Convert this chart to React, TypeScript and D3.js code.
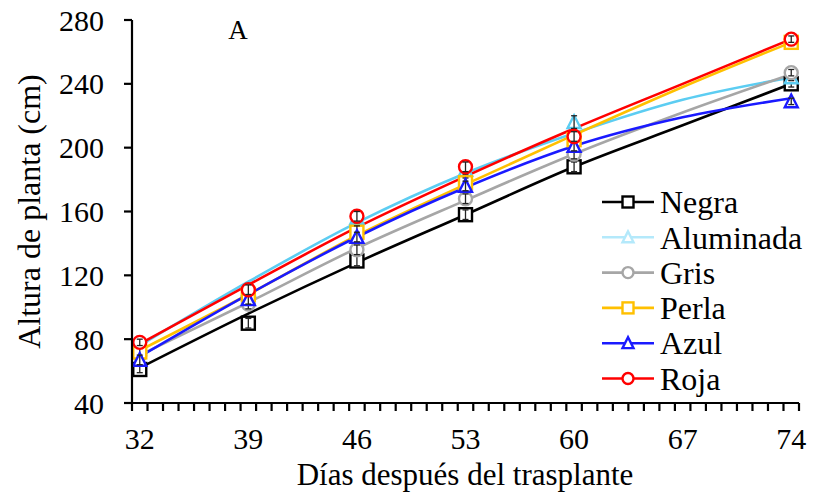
import React from 'react'
import * as d3 from 'd3'

// observed days (markers) and days where the fitted curves were read
const days = [32, 39, 46, 53, 60, 74]
const curveDays = [32, 39, 46, 53, 60, 67, 74]
const xTicks = [32, 39, 46, 53, 60, 67, 74]
const yTicks = [40, 80, 120, 160, 200, 240, 280]

const seriesNames = ['Negra', 'Aluminada', 'Gris', 'Perla', 'Azul', 'Roja']
const seriesColors = ['#000000', '#5ccdf2', '#a6a6a6', '#ffc000', '#1a1aff', '#ff0000']
const legendColors = ['#000000', '#b4e9fb', '#a6a6a6', '#ffc000', '#1a1aff', '#ff0000']
const seriesShapes = ['square', 'triangle', 'circle', 'square', 'triangle', 'circle']

// measured plant height (cm)
const negra = [61, 90, 129, 158, 188, 240]
const aluminada = [76, 111, 156, 186, 216, 244]
const gris = [70, 102, 136, 168, 196, 247]
const perla = [72, 108, 147, 178, 205, 266]
const azul = [67, 105, 144, 176, 201, 229]
const roja = [78, 111, 157, 188, 207, 268]
const values = [negra, aluminada, gris, perla, azul, roja]

// standard errors
const negraErr = [2, 3, 3, 3, 3, 2]
const aluminadaErr = [2, 3, 3, 3, 4, 2]
const grisErr = [2, 3, 3, 3, 3, 2]
const perlaErr = [3, 3, 4, 3, 3, 2]
const azulErr = [3, 3, 3, 3, 3, 2]
const rojaErr = [2, 3, 3, 3, 3, 2]
const errors = [negraErr, aluminadaErr, grisErr, perlaErr, azulErr, rojaErr]

// trend line (fitted) values read at curveDays
const negraFit = [62, 96, 128, 158, 188, 214, 240]
const aluminadaFit = [76, 116, 153, 184, 209, 230, 244]
const grisFit = [70, 103, 137, 167, 196, 222, 246]
const perlaFit = [73, 108, 145, 177, 208, 238, 266]
const azulFit = [69, 108, 144, 175, 201, 219, 231]
const rojaFit = [77, 114, 150, 182, 212, 240, 268]
const fits = [negraFit, aluminadaFit, grisFit, perlaFit, azulFit, rojaFit]

const W = 813
const H = 495
const font = '"Liberation Serif", "Times New Roman", serif'

const x = d3.scaleLinear().domain([31.5, 74.5]).range([132, 799])
const y = d3.scaleLinear().domain([40, 280]).range([403, 20])

const Marker = ({ shape, cx, cy, color, size }: { shape: string; cx: number; cy: number; color: string; size: number }) => {
  const sw = 2.4
  if (shape === 'square') {
    return <rect x={cx - size / 2} y={cy - size / 2} width={size} height={size} fill="white" stroke={color} strokeWidth={sw} />
  }
  if (shape === 'circle') {
    return <circle cx={cx} cy={cy} r={size / 2} fill="white" stroke={color} strokeWidth={sw} />
  }
  const h = size * 0.9
  const pts = [
    [cx, cy - h / 2 - 1],
    [cx - size / 2, cy + h / 2],
    [cx + size / 2, cy + h / 2]
  ]
  return <polygon points={pts.map(p => p.join(',')).join(' ')} fill="white" stroke={color} strokeWidth={sw} />
}

export default function App() {
  const line = d3.line<number>()
    .x((d, i) => x(curveDays[i]))
    .y(d => y(d))
    .curve(d3.curveMonotoneX)

  const minorTicks = d3.range(31.5, 75, 1)

  return (
    <svg width={W} height={H} style={{ position: 'fixed', left: 0, top: 0, background: 'white', fontFamily: font }}>
      {/* trend lines */}
      {fits.map((f, s) => (
        <path key={'fit' + s} d={line(f) || ''} fill="none" stroke={seriesColors[s]} strokeWidth={2.6} />
      ))}

      {/* markers with error bars */}
      {values.map((vals, s) => (
        <g key={'pts' + s}>
          {vals.map((v, i) => {
            const cx = x(days[i])
            const cy = y(v)
            return (
              <g key={i}>
                <Marker shape={seriesShapes[s]} cx={cx} cy={cy} color={seriesColors[s]} size={13} />
                <line x1={cx} x2={cx} y1={y(v - errors[s][i])} y2={y(v + errors[s][i])} stroke="#222" strokeWidth={1.3} />
                <line x1={cx - 3} x2={cx + 3} y1={y(v - errors[s][i])} y2={y(v - errors[s][i])} stroke="#222" strokeWidth={1.3} />
                <line x1={cx - 3} x2={cx + 3} y1={y(v + errors[s][i])} y2={y(v + errors[s][i])} stroke="#222" strokeWidth={1.3} />
              </g>
            )
          })}
        </g>
      ))}

      {/* y axis */}
      <line x1={132} x2={132} y1={y(280)} y2={y(40)} stroke="black" strokeWidth={2.2} />
      {yTicks.map(t => (
        <g key={'y' + t}>
          <line x1={124} x2={132} y1={y(t)} y2={y(t)} stroke="black" strokeWidth={2.2} />
          <text x={104} y={y(t)} dy="0.35em" textAnchor="end" fontSize={30}>{t}</text>
        </g>
      ))}

      {/* x axis */}
      <line x1={x(31.5)} x2={x(74.5)} y1={403} y2={403} stroke="black" strokeWidth={2.2} />
      {minorTicks.map(t => (
        <line key={'xt' + t} x1={x(t)} x2={x(t)} y1={403} y2={411} stroke="black" strokeWidth={2.2} />
      ))}
      {xTicks.map(t => (
        <text key={'xl' + t} x={x(t)} y={449} textAnchor="middle" fontSize={30}>{t}</text>
      ))}

      {/* titles */}
      <text x={465} y={485} textAnchor="middle" fontSize={31}>Días después del trasplante</text>
      <text transform={`translate(40,${y(160)}) rotate(-90)`} textAnchor="middle" fontSize={32}>Altura de planta (cm)</text>
      <text x={238} y={39} textAnchor="middle" fontSize={27}>A</text>

      {/* legend */}
      {seriesNames.map((n, i) => {
        const ly = 202 + i * 35.3
        return (
          <g key={'lg' + n}>
            <line x1={602} x2={654} y1={ly} y2={ly} stroke={legendColors[i]} strokeWidth={2.6} />
            <Marker shape={seriesShapes[i]} cx={628} cy={ly} color={legendColors[i]} size={11} />
            <text x={660} y={ly} dy="0.35em" fontSize={32}>{n}</text>
          </g>
        )
      })}
    </svg>
  )
}
